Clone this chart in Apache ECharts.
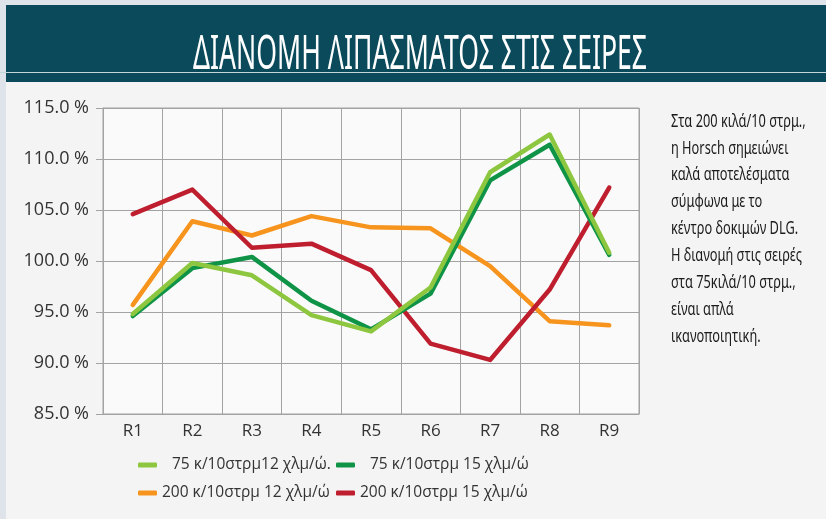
<!DOCTYPE html>
<html>
<head>
<meta charset="utf-8">
<script src="https://cdn.jsdelivr.net/npm/echarts@6/dist/echarts.min.js"></script>
<style>
  html, body { margin: 0; padding: 0; background: #dfe3ea; }
  #chart { width: 826px; height: 519px; }
</style>
</head>
<body>
<div id="chart"></div>
<script>
// rows of the seeder
const categories = ['R1', 'R2', 'R3', 'R4', 'R5', 'R6', 'R7', 'R8', 'R9'];

// distribution per row, % of mean
const light75 = [94.8, 99.8, 98.6, 94.7, 93.1, 97.4, 108.7, 112.4, 100.8];
const dark75 = [94.6, 99.3, 100.4, 96.1, 93.3, 96.8, 107.9, 111.4, 100.6];
const orange200 = [95.7, 103.9, 102.5, 104.4, 103.3, 103.2, 99.5, 94.1, 93.7];
const red200 = [104.6, 107.0, 101.3, 101.7, 99.1, 91.9, 90.3, 97.2, 107.2];

const seriesNames = [
    '75 κ/10στρμ12 χλμ/ώ.',
    '75 κ/10στρμ 15 χλμ/ώ',
    '200 κ/10στρμ 12 χλμ/ώ',
    '200 κ/10στρμ 15 χλμ/ώ'
];
const titleText = 'ΔΙΑΝΟΜΗ ΛΙΠΑΣΜΑΤΟΣ ΣΤΙΣ ΣΕΙΡΕΣ';
const noteLines = [
    'Στα 200 κιλά/10 στρμ.,',
    'η Horsch σημειώνει',
    'καλά αποτελέσματα',
    'σύμφωνα με το',
    'κέντρο δοκιμών DLG.',
    'Η διανομή στις σειρές',
    'στα 75κιλά/10 στρμ.,',
    'είναι απλά',
    'ικανοποιητική.'
];

const colors = ['#8dc63f', '#0f9447', '#f7941d', '#be1e2d'];

const chart = echarts.init(document.getElementById('chart'));

const makeLine = (name, data, color, z) => ({
    name,
    type: 'line',
    data,
    z,
    symbol: 'none',
    lineStyle: { color, width: 4.5, cap: 'round', join: 'round' },
    itemStyle: { color }
});

// one legend per item so the two columns line up like the original
const legendPos = [
    { left: 138, top: 457, pad: 10 },
    { left: 336, top: 457, pad: 10 },
    { left: 138, top: 485, pad: 0 },
    { left: 336, top: 485, pad: 0 }
];
const legends = seriesNames.map((name, i) => ({
    left: legendPos[i].left,
    top: legendPos[i].top,
    padding: 0,
    data: [name],
    icon: 'roundRect',
    itemWidth: 19,
    itemHeight: 5,
    selectedMode: false,
    textStyle: {
        color: '#333',
        fontFamily: 'Open Sans',
        fontSize: 15.5,
        padding: [0, 0, 0, legendPos[i].pad]
    }
}));

const option = {
    animation: false,
    backgroundColor: '#dfe3ea',
    graphic: [
        { type: 'rect', z: -10, shape: { x: 6, y: 82, width: 820, height: 437 }, style: { fill: '#f4f4f4' } },
        { type: 'rect', z: -10, shape: { x: 6, y: 5, width: 820, height: 77 }, style: { fill: '#0a4a5a' } },
        { type: 'line', z: -9, shape: { x1: 0, y1: 72.5, x2: 826, y2: 72.5 }, style: { stroke: '#c5d6da', lineWidth: 1 } },
        {
            type: 'text',
            x: 193,
            y: 79,
            scaleX: 0.70,
            scaleY: 1.25,
            style: {
                text: titleText,
                fill: '#ffffff',
                fontFamily: 'Noto Sans',
                fontSize: 38,
                textAlign: 'left',
                textVerticalAlign: 'bottom'
            }
        },
        {
            type: 'text',
            x: 671,
            y: 108,
            scaleX: 0.8,
            scaleY: 1.14,
            style: {
                text: noteLines.join('\n'),
                fill: '#1b1b1b',
                fontFamily: 'Noto Sans',
                fontSize: 16,
                lineHeight: 23.6,
                textAlign: 'left',
                textVerticalAlign: 'top'
            }
        }
    ],
    legend: legends,
    grid: {
        left: 103,
        right: 187,
        top: 108,
        bottom: 105,
        show: true,
        backgroundColor: '#fafafa',
        borderColor: '#a3a3a3',
        borderWidth: 1
    },
    xAxis: {
        type: 'category',
        data: categories,
        boundaryGap: true,
        axisLine: { lineStyle: { color: '#a3a3a3' } },
        axisTick: { show: false },
        axisLabel: { color: '#333', fontFamily: 'Open Sans', fontSize: 17, margin: 9 },
        splitLine: { show: true, interval: 0, lineStyle: { color: '#a3a3a3', width: 1 } }
    },
    yAxis: {
        type: 'value',
        min: 85,
        max: 115,
        interval: 5,
        axisLine: { show: true, lineStyle: { color: '#a3a3a3' } },
        axisTick: { show: true, length: 7, lineStyle: { color: '#a3a3a3' } },
        axisLabel: {
            color: '#333',
            fontFamily: 'Open Sans',
            fontSize: 18,
            margin: 14,
            formatter: (v) => v.toFixed(1) + ' %'
        },
        splitLine: { lineStyle: { color: '#a3a3a3', width: 1 } }
    },
    series: [
        makeLine(seriesNames[2], orange200, colors[2], 2),
        makeLine(seriesNames[3], red200, colors[3], 3),
        makeLine(seriesNames[1], dark75, colors[1], 4),
        makeLine(seriesNames[0], light75, colors[0], 5)
    ]
};

chart.setOption(option);
</script>
</body>
</html>
